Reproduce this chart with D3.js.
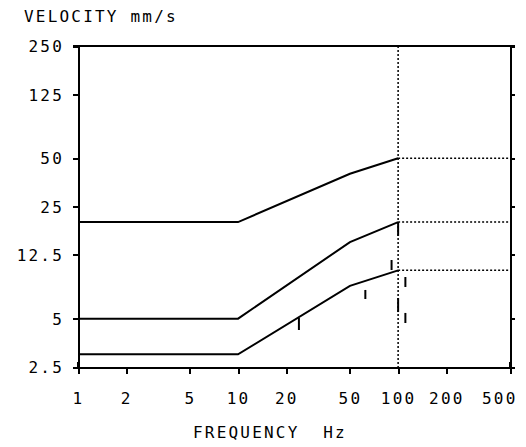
<!DOCTYPE html>
<html>
<head>
<meta charset="utf-8">
<style>
	body { margin: 0; background: #fff; }
	text { font-family: "DejaVu Sans Mono", monospace; font-size: 16px; fill: #000; letter-spacing: 2.2px; }
</style>
<script src="https://cdnjs.cloudflare.com/ajax/libs/d3/7.8.5/d3.min.js"></script>
</head>
<body>
<svg id="chart" width="526" height="447"></svg>
<script>
let width = 526;
let height = 447;

// frequency breakpoints (Hz) and the three limit lines (mm/s)
let freqs = [1, 10, 50, 100];
let line1 = [20, 20, 40, 50];
let line2 = [5, 5, 15, 20];
let line3 = [3, 3, 8, 10];
let fEnd = 500;

// measured values drawn as short bars: frequency, low, high
let barFreq = [24, 62.4, 91, 100, 111, 111, 100];
let barLow = [4.25, 6.63, 10.05, 5.5, 4.7, 7.88, 16.4];
let barHigh = [5.05, 7.55, 11.6, 6.73, 5.43, 9.09, 20];

let xTicks = [1, 2, 5, 10, 20, 50, 100, 200, 500];
let yTicks = [2.5, 5, 12.5, 25, 50, 125, 250];

let xScale = d3.scaleLog().domain([1, 500]).range([78, 510]);
let yScale = d3.scaleLog().domain([2.5, 250]).range([367, 46]);

let svg = d3.select("#chart");

// frame
let g = svg.append("g").attr("shape-rendering", "crispEdges");
g.append("line").attr("x1", xScale(1) - 5).attr("x2", xScale(500) + 5)
	.attr("y1", yScale(250)).attr("y2", yScale(250))
	.attr("stroke", "#000").attr("stroke-width", 2);

let yAxisL = d3.axisLeft(yScale).tickValues(yTicks).tickSize(5).tickFormat(d => d);
let yAxisR = d3.axisRight(yScale).tickValues(yTicks).tickSize(5).tickFormat("");
let xAxis = d3.axisBottom(xScale).tickValues(xTicks).tickSize(7).tickFormat(d => d);

let gl = svg.append("g").attr("transform", `translate(${xScale(1)},0)`).call(yAxisL);
let gr = svg.append("g").attr("transform", `translate(${xScale(500)},0)`).call(yAxisR);
let gb = svg.append("g").attr("transform", `translate(0,${yScale(2.5)})`).call(xAxis);

[gl, gr, gb].forEach(a => {
	a.attr("shape-rendering", "crispEdges");
	a.select(".domain").attr("stroke", "#000").attr("stroke-width", 2);
	a.selectAll(".tick line").attr("stroke", "#000").attr("stroke-width", 2);
	a.selectAll("text").attr("font-family", null).attr("font-size", null).attr("fill", "#000");
});
gl.selectAll(".tick text").attr("x", -14).attr("dy", "0.36em");
gb.selectAll(".tick text").attr("y", 26).attr("dy", "0.71em");
gb.selectAll(".tick text").filter(d => d == 500).attr("text-anchor", "end").attr("dx", 7);

// small tick upward at axis ends
gb.append("line").attr("x1", xScale(1)).attr("x2", xScale(1)).attr("y1", -5).attr("y2", 0)
	.attr("stroke", "#000").attr("stroke-width", 2);
gb.append("line").attr("x1", xScale(500)).attr("x2", xScale(500)).attr("y1", -5).attr("y2", 0)
	.attr("stroke", "#000").attr("stroke-width", 2);

// dotted guides
svg.append("line")
	.attr("x1", xScale(100)).attr("x2", xScale(100))
	.attr("y1", yScale(250)).attr("y2", yScale(2.5))
	.attr("stroke", "#000").attr("stroke-width", 1.5).attr("stroke-dasharray", "2,2");

let series = [line1, line2, line3];
let line = d3.line().x(d => xScale(d[0])).y(d => yScale(d[1]));

series.forEach(s => {
	let pts = freqs.map((f, i) => [f, s[i]]);
	svg.append("path").attr("d", line(pts))
		.attr("fill", "none").attr("stroke", "#000").attr("stroke-width", 2);
	let last = s[s.length - 1];
	svg.append("path").attr("d", line([[100, last], [fEnd, last]]))
		.attr("fill", "none").attr("stroke", "#000").attr("stroke-width", 1.5)
		.attr("stroke-dasharray", "2,2");
});

// measurement bars
svg.selectAll(".bar").data(barFreq).join("line")
	.attr("class", "bar")
	.attr("x1", d => xScale(d)).attr("x2", d => xScale(d))
	.attr("y1", (d, i) => yScale(barHigh[i])).attr("y2", (d, i) => yScale(barLow[i]))
	.attr("stroke", "#000").attr("stroke-width", 2);

// axis titles
svg.append("text").attr("x", 24).attr("y", 22).text("VELOCITY mm/s");
svg.append("text").attr("x", 193).attr("y", 438).attr("xml:space", "preserve")
	.style("white-space", "pre").text("FREQUENCY  Hz");
</script>
</body>
</html>
